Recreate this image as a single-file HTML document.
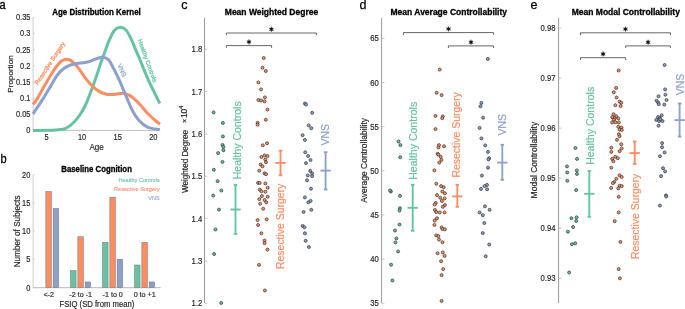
<!DOCTYPE html>
<html><head><meta charset="utf-8"><style>
html,body{margin:0;padding:0;background:#fff;width:685px;height:309px;overflow:hidden}
svg{display:block;will-change:transform}
text{font-family:"Liberation Sans",sans-serif}
</style></head><body>
<svg width="685" height="309" viewBox="0 0 685 309">
<rect width="685" height="309" fill="#fff"/>
<text x="0" y="0" font-size="12.5" fill="#000" text-anchor="start" font-weight="normal" transform="translate(-0.6 8.7) scale(0.88 1)" stroke="#000" stroke-width="0.3">a</text>
<text x="0" y="0" font-size="12.5" fill="#000" text-anchor="start" font-weight="normal" transform="translate(0.4 162.6) scale(0.88 1)" stroke="#000" stroke-width="0.3">b</text>
<text x="181.2" y="8.7" font-size="12.5" fill="#000" text-anchor="start" font-weight="normal" stroke="#000" stroke-width="0.25">c</text>
<text x="359.5" y="8.7" font-size="12.5" fill="#000" text-anchor="start" font-weight="normal" stroke="#000" stroke-width="0.25">d</text>
<text x="530.5" y="8.7" font-size="12.5" fill="#000" text-anchor="start" font-weight="normal" stroke="#000" stroke-width="0.25">e</text>
<line x1="33.2" y1="17.31" x2="33.2" y2="130.5" stroke="#e0e0e0" stroke-width="1.7"/>
<line x1="33.2" y1="130.5" x2="160.3" y2="130.5" stroke="#c4c4c4" stroke-width="1.2"/>
<line x1="33.2" y1="130.5" x2="34.8" y2="130.5" stroke="#bbb" stroke-width="0.6"/>
<text x="0" y="0" font-size="8.7" fill="#262626" text-anchor="end" font-weight="normal" transform="translate(30.4 133.45) scale(0.855 1)" stroke="#262626" stroke-width="0.18">0</text>
<line x1="33.2" y1="114.33" x2="34.8" y2="114.33" stroke="#bbb" stroke-width="0.6"/>
<text x="0" y="0" font-size="8.7" fill="#262626" text-anchor="end" font-weight="normal" transform="translate(30.4 117.28) scale(0.855 1)" stroke="#262626" stroke-width="0.18">0.05</text>
<line x1="33.2" y1="98.16" x2="34.8" y2="98.16" stroke="#bbb" stroke-width="0.6"/>
<text x="0" y="0" font-size="8.7" fill="#262626" text-anchor="end" font-weight="normal" transform="translate(30.4 101.11) scale(0.855 1)" stroke="#262626" stroke-width="0.18">0.1</text>
<line x1="33.2" y1="81.99" x2="34.8" y2="81.99" stroke="#bbb" stroke-width="0.6"/>
<text x="0" y="0" font-size="8.7" fill="#262626" text-anchor="end" font-weight="normal" transform="translate(30.4 84.94) scale(0.855 1)" stroke="#262626" stroke-width="0.18">0.15</text>
<line x1="33.2" y1="65.82" x2="34.8" y2="65.82" stroke="#bbb" stroke-width="0.6"/>
<text x="0" y="0" font-size="8.7" fill="#262626" text-anchor="end" font-weight="normal" transform="translate(30.4 68.77) scale(0.855 1)" stroke="#262626" stroke-width="0.18">0.2</text>
<line x1="33.2" y1="49.65" x2="34.8" y2="49.65" stroke="#bbb" stroke-width="0.6"/>
<text x="0" y="0" font-size="8.7" fill="#262626" text-anchor="end" font-weight="normal" transform="translate(30.4 52.6) scale(0.855 1)" stroke="#262626" stroke-width="0.18">0.25</text>
<line x1="33.2" y1="33.48" x2="34.8" y2="33.48" stroke="#bbb" stroke-width="0.6"/>
<text x="0" y="0" font-size="8.7" fill="#262626" text-anchor="end" font-weight="normal" transform="translate(30.4 36.43) scale(0.855 1)" stroke="#262626" stroke-width="0.18">0.3</text>
<line x1="33.2" y1="17.31" x2="34.8" y2="17.31" stroke="#bbb" stroke-width="0.6"/>
<text x="0" y="0" font-size="8.7" fill="#262626" text-anchor="end" font-weight="normal" transform="translate(30.4 20.26) scale(0.855 1)" stroke="#262626" stroke-width="0.18">0.35</text>
<line x1="46.5" y1="130.5" x2="46.5" y2="128.9" stroke="#bbb" stroke-width="0.6"/>
<text x="0" y="0" font-size="8.5" fill="#262626" text-anchor="middle" font-weight="normal" transform="translate(46.5 139.9) scale(0.875 1)" stroke="#262626" stroke-width="0.18">5</text>
<line x1="82.1" y1="130.5" x2="82.1" y2="128.9" stroke="#bbb" stroke-width="0.6"/>
<text x="0" y="0" font-size="8.5" fill="#262626" text-anchor="middle" font-weight="normal" transform="translate(82.1 139.9) scale(0.875 1)" stroke="#262626" stroke-width="0.18">10</text>
<line x1="117.7" y1="130.5" x2="117.7" y2="128.9" stroke="#bbb" stroke-width="0.6"/>
<text x="0" y="0" font-size="8.5" fill="#262626" text-anchor="middle" font-weight="normal" transform="translate(117.7 139.9) scale(0.875 1)" stroke="#262626" stroke-width="0.18">15</text>
<line x1="153.3" y1="130.5" x2="153.3" y2="128.9" stroke="#bbb" stroke-width="0.6"/>
<text x="0" y="0" font-size="8.5" fill="#262626" text-anchor="middle" font-weight="normal" transform="translate(153.3 139.9) scale(0.875 1)" stroke="#262626" stroke-width="0.18">20</text>
<text x="0" y="0" font-size="8.8" fill="#262626" text-anchor="middle" font-weight="normal" transform="translate(96.6 149.7) scale(0.92 1)" stroke="#262626" stroke-width="0.18">Age</text>
<text x="12.7" y="74" font-size="8.1" fill="#262626" text-anchor="middle" font-weight="normal" transform="rotate(-90 12.7 74)" stroke="#262626" stroke-width="0.18">Proportion</text>
<text x="0" y="0" font-size="8.45" fill="#000" text-anchor="middle" font-weight="bold" transform="translate(96.5 14.9) scale(0.94 1)" stroke="#000" stroke-width="0.3">Age Distribution Kernel</text>
<path d="M33.00 130.40 C36.33 130.38 48.50 130.43 53.00 130.30 C57.50 130.17 57.83 129.93 60.00 129.60 C62.17 129.27 63.63 129.57 66.00 128.30 C68.37 127.03 71.78 124.38 74.20 122.00 C76.62 119.62 78.62 116.83 80.50 114.00 C82.38 111.17 84.08 107.92 85.50 105.00 C86.92 102.08 87.88 99.33 89.00 96.50 C90.12 93.67 91.00 91.25 92.20 88.00 C93.40 84.75 94.85 80.92 96.20 77.00 C97.55 73.08 98.88 68.62 100.30 64.50 C101.72 60.38 103.15 56.48 104.70 52.30 C106.25 48.12 107.98 43.03 109.60 39.40 C111.22 35.77 112.65 32.52 114.40 30.50 C116.15 28.48 118.22 27.43 120.10 27.30 C121.98 27.17 123.95 27.95 125.70 29.70 C127.45 31.45 128.98 34.57 130.60 37.80 C132.22 41.03 133.78 45.33 135.40 49.10 C137.02 52.87 138.95 57.17 140.30 60.40 C141.65 63.63 141.83 64.53 143.50 68.50 C145.17 72.47 147.58 78.37 150.30 84.20 C153.02 90.03 158.22 100.28 159.80 103.50" fill="none" stroke="#66c2a5" stroke-width="3" stroke-linecap="butt"/>
<path d="M33.00 104.50 C33.67 103.60 34.97 102.42 37.00 99.10 C39.03 95.78 42.37 89.45 45.20 84.60 C48.03 79.75 51.38 73.85 54.00 70.00 C56.62 66.15 58.82 63.28 60.90 61.50 C62.98 59.72 64.90 59.52 66.50 59.30 C68.10 59.08 68.70 58.98 70.50 60.20 C72.30 61.42 74.97 63.83 77.30 66.60 C79.63 69.37 82.08 73.65 84.50 76.80 C86.92 79.95 89.37 83.07 91.80 85.50 C94.23 87.93 96.67 89.93 99.10 91.40 C101.53 92.87 104.25 93.78 106.40 94.30 C108.55 94.82 110.23 94.55 112.00 94.50 C113.77 94.45 115.15 94.20 117.00 94.00 C118.85 93.80 120.95 93.03 123.10 93.30 C125.25 93.57 127.25 93.90 129.90 95.60 C132.55 97.30 135.98 100.48 139.00 103.50 C142.02 106.52 144.53 110.23 148.00 113.70 C151.47 117.17 157.83 122.53 159.80 124.30" fill="none" stroke="#fc8d62" stroke-width="3" stroke-linecap="butt"/>
<path d="M33.00 113.80 C34.63 111.35 39.72 103.97 42.80 99.10 C45.88 94.23 49.02 88.70 51.50 84.60 C53.98 80.50 55.60 77.23 57.70 74.50 C59.80 71.77 61.95 69.78 64.10 68.20 C66.25 66.62 68.43 65.80 70.60 65.00 C72.77 64.20 74.95 63.77 77.10 63.40 C79.25 63.03 81.60 63.07 83.50 62.80 C85.40 62.53 86.78 62.32 88.50 61.80 C90.22 61.28 91.57 60.45 93.80 59.70 C96.03 58.95 99.47 57.30 101.90 57.30 C104.33 57.30 106.52 57.95 108.40 59.70 C110.28 61.45 111.50 64.65 113.20 67.80 C114.90 70.95 116.57 74.17 118.60 78.60 C120.63 83.03 123.13 89.12 125.40 94.40 C127.67 99.68 129.93 105.95 132.20 110.30 C134.47 114.65 136.37 117.67 139.00 120.50 C141.63 123.33 144.53 125.80 148.00 127.30 C151.47 128.80 157.83 129.13 159.80 129.50" fill="none" stroke="#8da0cb" stroke-width="3" stroke-linecap="butt"/>
<text x="51.6" y="64.4" font-size="6.1" fill="#fc8d62" text-anchor="middle" font-weight="normal" transform="rotate(-56.5 51.6 64.4)" stroke="#fc8d62" stroke-width="0.25">Resective Surgery</text>
<text x="0" y="0" font-size="6.5" fill="#8da0cb" text-anchor="middle" font-weight="normal" transform="translate(120 71.3) scale(0.94 1) rotate(63)" stroke="#8da0cb" stroke-width="0.25">VNS</text>
<text x="0" y="0" font-size="6.2" fill="#66c2a5" text-anchor="middle" font-weight="normal" transform="translate(145.5 61.3) scale(0.94 1) rotate(69)" stroke="#66c2a5" stroke-width="0.25">Healthy Controls</text>
<line x1="33.2" y1="174.6" x2="33.2" y2="287.6" stroke="#e0e0e0" stroke-width="1.7"/>
<line x1="33.2" y1="287.6" x2="160.6" y2="287.6" stroke="#c4c4c4" stroke-width="1.2"/>
<line x1="33.2" y1="287.6" x2="34.8" y2="287.6" stroke="#bbb" stroke-width="0.6"/>
<text x="0" y="0" font-size="8.7" fill="#262626" text-anchor="end" font-weight="normal" transform="translate(30.3 290.55) scale(0.855 1)" stroke="#262626" stroke-width="0.18">0</text>
<line x1="33.2" y1="259.35" x2="34.8" y2="259.35" stroke="#bbb" stroke-width="0.6"/>
<text x="0" y="0" font-size="8.7" fill="#262626" text-anchor="end" font-weight="normal" transform="translate(30.3 262.3) scale(0.855 1)" stroke="#262626" stroke-width="0.18">5</text>
<line x1="33.2" y1="231.1" x2="34.8" y2="231.1" stroke="#bbb" stroke-width="0.6"/>
<text x="0" y="0" font-size="8.7" fill="#262626" text-anchor="end" font-weight="normal" transform="translate(30.3 234.05) scale(0.855 1)" stroke="#262626" stroke-width="0.18">10</text>
<line x1="33.2" y1="202.85" x2="34.8" y2="202.85" stroke="#bbb" stroke-width="0.6"/>
<text x="0" y="0" font-size="8.7" fill="#262626" text-anchor="end" font-weight="normal" transform="translate(30.3 205.8) scale(0.855 1)" stroke="#262626" stroke-width="0.18">15</text>
<line x1="33.2" y1="174.6" x2="34.8" y2="174.6" stroke="#bbb" stroke-width="0.6"/>
<text x="0" y="0" font-size="8.7" fill="#262626" text-anchor="end" font-weight="normal" transform="translate(30.3 177.55) scale(0.855 1)" stroke="#262626" stroke-width="0.18">20</text>
<rect x="45.85" y="191.55" width="5.5" height="96.05" fill="#fc8d62" stroke="#707070" stroke-width="0.5"/>
<rect x="53.15" y="208.5" width="5.5" height="79.1" fill="#8da0cb" stroke="#707070" stroke-width="0.5"/>
<rect x="70.55" y="270.65" width="5.5" height="16.95" fill="#66c2a5" stroke="#707070" stroke-width="0.5"/>
<rect x="77.85" y="236.75" width="5.5" height="50.85" fill="#fc8d62" stroke="#707070" stroke-width="0.5"/>
<rect x="85.15" y="281.95" width="5.5" height="5.65" fill="#8da0cb" stroke="#707070" stroke-width="0.5"/>
<rect x="102.55" y="242.4" width="5.5" height="45.2" fill="#66c2a5" stroke="#707070" stroke-width="0.5"/>
<rect x="109.85" y="197.2" width="5.5" height="90.4" fill="#fc8d62" stroke="#707070" stroke-width="0.5"/>
<rect x="117.15" y="259.35" width="5.5" height="28.25" fill="#8da0cb" stroke="#707070" stroke-width="0.5"/>
<rect x="134.55" y="265" width="5.5" height="22.6" fill="#66c2a5" stroke="#707070" stroke-width="0.5"/>
<rect x="141.85" y="242.4" width="5.5" height="45.2" fill="#fc8d62" stroke="#707070" stroke-width="0.5"/>
<rect x="149.15" y="281.95" width="5.5" height="5.65" fill="#8da0cb" stroke="#707070" stroke-width="0.5"/>
<text x="0" y="0" font-size="7.8" fill="#262626" text-anchor="middle" font-weight="normal" transform="translate(48.7 296.7) scale(0.92 1)" stroke="#262626" stroke-width="0.18">&lt;-2</text>
<text x="0" y="0" font-size="7.8" fill="#262626" text-anchor="middle" font-weight="normal" transform="translate(80.7 296.7) scale(0.92 1)" stroke="#262626" stroke-width="0.18">-2 to -1</text>
<text x="0" y="0" font-size="7.8" fill="#262626" text-anchor="middle" font-weight="normal" transform="translate(112.7 296.7) scale(0.92 1)" stroke="#262626" stroke-width="0.18">-1 to 0</text>
<text x="0" y="0" font-size="7.8" fill="#262626" text-anchor="middle" font-weight="normal" transform="translate(144.7 296.7) scale(0.92 1)" stroke="#262626" stroke-width="0.18">0 to +1</text>
<text x="0" y="0" font-size="8.2" fill="#262626" text-anchor="middle" font-weight="normal" transform="translate(96.9 306.6) scale(0.94 1)" stroke="#262626" stroke-width="0.18">FSIQ (SD from mean)</text>
<text x="20.3" y="231.4" font-size="8.2" fill="#262626" text-anchor="middle" font-weight="normal" transform="rotate(-90 20.3 231.4)" stroke="#262626" stroke-width="0.18">Number of Subjects</text>
<text x="0" y="0" font-size="8.3" fill="#000" text-anchor="middle" font-weight="bold" transform="translate(96.6 171.8) scale(0.94 1)" stroke="#000" stroke-width="0.3">Baseline Cognition</text>
<text x="0" y="0" font-size="5.95" fill="#66c2a5" text-anchor="end" font-weight="normal" transform="translate(159.7 181.6) scale(0.94 1)" stroke="#66c2a5" stroke-width="0.08">Healthy Controls</text>
<text x="0" y="0" font-size="5.95" fill="#fc8d62" text-anchor="end" font-weight="normal" transform="translate(159.7 191.1) scale(0.94 1)" stroke="#fc8d62" stroke-width="0.08">Resective Surgery</text>
<text x="0" y="0" font-size="5.95" fill="#8da0cb" text-anchor="end" font-weight="normal" transform="translate(159.7 200.3) scale(0.94 1)" stroke="#8da0cb" stroke-width="0.08">VNS</text>
<line x1="204.5" y1="17.9" x2="204.5" y2="303" stroke="#9a9a9a" stroke-width="1"/>
<line x1="204.5" y1="49.3" x2="207.3" y2="49.3" stroke="#bcbcbc" stroke-width="0.9"/>
<text x="0" y="0" font-size="8.35" fill="#262626" text-anchor="end" font-weight="normal" transform="translate(202.3 52.35) scale(0.92 1)" stroke="#262626" stroke-width="0.18">1.8</text>
<line x1="204.5" y1="91.63" x2="207.3" y2="91.63" stroke="#bcbcbc" stroke-width="0.9"/>
<text x="0" y="0" font-size="8.35" fill="#262626" text-anchor="end" font-weight="normal" transform="translate(202.3 94.68) scale(0.92 1)" stroke="#262626" stroke-width="0.18">1.7</text>
<line x1="204.5" y1="133.96" x2="207.3" y2="133.96" stroke="#bcbcbc" stroke-width="0.9"/>
<text x="0" y="0" font-size="8.35" fill="#262626" text-anchor="end" font-weight="normal" transform="translate(202.3 137.01) scale(0.92 1)" stroke="#262626" stroke-width="0.18">1.6</text>
<line x1="204.5" y1="176.29" x2="207.3" y2="176.29" stroke="#bcbcbc" stroke-width="0.9"/>
<text x="0" y="0" font-size="8.35" fill="#262626" text-anchor="end" font-weight="normal" transform="translate(202.3 179.34) scale(0.92 1)" stroke="#262626" stroke-width="0.18">1.5</text>
<line x1="204.5" y1="218.62" x2="207.3" y2="218.62" stroke="#bcbcbc" stroke-width="0.9"/>
<text x="0" y="0" font-size="8.35" fill="#262626" text-anchor="end" font-weight="normal" transform="translate(202.3 221.67) scale(0.92 1)" stroke="#262626" stroke-width="0.18">1.4</text>
<line x1="204.5" y1="260.95" x2="207.3" y2="260.95" stroke="#bcbcbc" stroke-width="0.9"/>
<text x="0" y="0" font-size="8.35" fill="#262626" text-anchor="end" font-weight="normal" transform="translate(202.3 264) scale(0.92 1)" stroke="#262626" stroke-width="0.18">1.3</text>
<line x1="204.5" y1="303.28" x2="207.3" y2="303.28" stroke="#bcbcbc" stroke-width="0.9"/>
<text x="0" y="0" font-size="8.35" fill="#262626" text-anchor="end" font-weight="normal" transform="translate(202.3 306.33) scale(0.92 1)" stroke="#262626" stroke-width="0.18">1.2</text>
<text x="187.7" y="193" font-size="8.15" fill="#262626" text-anchor="start" font-weight="normal" transform="rotate(-90 187.7 193)" stroke="#262626" stroke-width="0.18">Weighted Degree</text>
<text x="187.1" y="121" font-size="7.2" fill="#262626" text-anchor="middle" font-weight="normal" transform="rotate(-90 187.1 121)" stroke="#262626" stroke-width="0.18">×</text>
<text x="187.1" y="118.1" font-size="8.5" fill="#262626" text-anchor="start" font-weight="normal" transform="rotate(-90 187.1 118.1)" stroke="#262626" stroke-width="0.18">10</text>
<text x="182.9" y="108.7" font-size="5.6" fill="#262626" text-anchor="start" font-weight="normal" transform="rotate(-90 182.9 108.7)" stroke="#262626" stroke-width="0.18">4</text>
<text x="271.5" y="15.4" font-size="8.5" fill="#000" text-anchor="middle" font-weight="bold" stroke="#000" stroke-width="0.3">Mean Weighted Degree</text>
<circle cx="213.6" cy="112.4" r="1.52" fill="#66c2a5" stroke="#262626" stroke-width="0.65"/>
<circle cx="222.9" cy="122.9" r="1.52" fill="#66c2a5" stroke="#262626" stroke-width="0.65"/>
<circle cx="222.9" cy="136.4" r="1.52" fill="#66c2a5" stroke="#262626" stroke-width="0.65"/>
<circle cx="222.5" cy="144.9" r="1.52" fill="#66c2a5" stroke="#262626" stroke-width="0.65"/>
<circle cx="223.4" cy="146.9" r="1.52" fill="#66c2a5" stroke="#262626" stroke-width="0.65"/>
<circle cx="223.4" cy="150.2" r="1.52" fill="#66c2a5" stroke="#262626" stroke-width="0.65"/>
<circle cx="218.1" cy="153.1" r="1.52" fill="#66c2a5" stroke="#262626" stroke-width="0.65"/>
<circle cx="222.5" cy="161.9" r="1.52" fill="#66c2a5" stroke="#262626" stroke-width="0.65"/>
<circle cx="213.8" cy="169.8" r="1.52" fill="#66c2a5" stroke="#262626" stroke-width="0.65"/>
<circle cx="217.6" cy="181.2" r="1.52" fill="#66c2a5" stroke="#262626" stroke-width="0.65"/>
<circle cx="221.3" cy="190.5" r="1.52" fill="#66c2a5" stroke="#262626" stroke-width="0.65"/>
<circle cx="213.2" cy="195.6" r="1.52" fill="#66c2a5" stroke="#262626" stroke-width="0.65"/>
<circle cx="219" cy="209.6" r="1.52" fill="#66c2a5" stroke="#262626" stroke-width="0.65"/>
<circle cx="215.5" cy="229.4" r="1.52" fill="#66c2a5" stroke="#262626" stroke-width="0.65"/>
<circle cx="214.1" cy="254" r="1.52" fill="#66c2a5" stroke="#262626" stroke-width="0.65"/>
<circle cx="221.2" cy="302.9" r="1.52" fill="#66c2a5" stroke="#262626" stroke-width="0.65"/>
<circle cx="263.7" cy="58" r="1.52" fill="#fc8d62" stroke="#262626" stroke-width="0.65"/>
<circle cx="262.5" cy="67.7" r="1.52" fill="#fc8d62" stroke="#262626" stroke-width="0.65"/>
<circle cx="265.8" cy="71" r="1.52" fill="#fc8d62" stroke="#262626" stroke-width="0.65"/>
<circle cx="258.4" cy="82.4" r="1.52" fill="#fc8d62" stroke="#262626" stroke-width="0.65"/>
<circle cx="261.1" cy="89.4" r="1.52" fill="#fc8d62" stroke="#262626" stroke-width="0.65"/>
<circle cx="258.4" cy="100" r="1.52" fill="#fc8d62" stroke="#262626" stroke-width="0.65"/>
<circle cx="261.1" cy="100.5" r="1.52" fill="#fc8d62" stroke="#262626" stroke-width="0.65"/>
<circle cx="264.9" cy="97.4" r="1.52" fill="#fc8d62" stroke="#262626" stroke-width="0.65"/>
<circle cx="264.6" cy="101.4" r="1.52" fill="#fc8d62" stroke="#262626" stroke-width="0.65"/>
<circle cx="267.5" cy="109.6" r="1.52" fill="#fc8d62" stroke="#262626" stroke-width="0.65"/>
<circle cx="265.8" cy="119.8" r="1.52" fill="#fc8d62" stroke="#262626" stroke-width="0.65"/>
<circle cx="257.6" cy="122.8" r="1.52" fill="#fc8d62" stroke="#262626" stroke-width="0.65"/>
<circle cx="257.6" cy="124.7" r="1.52" fill="#fc8d62" stroke="#262626" stroke-width="0.65"/>
<circle cx="267" cy="143.2" r="1.52" fill="#fc8d62" stroke="#262626" stroke-width="0.65"/>
<circle cx="262.8" cy="145.3" r="1.52" fill="#fc8d62" stroke="#262626" stroke-width="0.65"/>
<circle cx="261.4" cy="157" r="1.52" fill="#fc8d62" stroke="#262626" stroke-width="0.65"/>
<circle cx="264.6" cy="155.4" r="1.52" fill="#fc8d62" stroke="#262626" stroke-width="0.65"/>
<circle cx="267.5" cy="156.1" r="1.52" fill="#fc8d62" stroke="#262626" stroke-width="0.65"/>
<circle cx="265.4" cy="159.6" r="1.52" fill="#fc8d62" stroke="#262626" stroke-width="0.65"/>
<circle cx="266" cy="162.2" r="1.52" fill="#fc8d62" stroke="#262626" stroke-width="0.65"/>
<circle cx="260.7" cy="164.5" r="1.52" fill="#fc8d62" stroke="#262626" stroke-width="0.65"/>
<circle cx="262.5" cy="166.3" r="1.52" fill="#fc8d62" stroke="#262626" stroke-width="0.65"/>
<circle cx="259.3" cy="170.7" r="1.52" fill="#fc8d62" stroke="#262626" stroke-width="0.65"/>
<circle cx="264.6" cy="173.3" r="1.52" fill="#fc8d62" stroke="#262626" stroke-width="0.65"/>
<circle cx="266" cy="174.2" r="1.52" fill="#fc8d62" stroke="#262626" stroke-width="0.65"/>
<circle cx="258.1" cy="182.9" r="1.52" fill="#fc8d62" stroke="#262626" stroke-width="0.65"/>
<circle cx="259.7" cy="182.9" r="1.52" fill="#fc8d62" stroke="#262626" stroke-width="0.65"/>
<circle cx="265.4" cy="183.4" r="1.52" fill="#fc8d62" stroke="#262626" stroke-width="0.65"/>
<circle cx="267.7" cy="187.7" r="1.52" fill="#fc8d62" stroke="#262626" stroke-width="0.65"/>
<circle cx="259.8" cy="189.6" r="1.52" fill="#fc8d62" stroke="#262626" stroke-width="0.65"/>
<circle cx="261.4" cy="191.3" r="1.52" fill="#fc8d62" stroke="#262626" stroke-width="0.65"/>
<circle cx="265.4" cy="191.7" r="1.52" fill="#fc8d62" stroke="#262626" stroke-width="0.65"/>
<circle cx="261.9" cy="196.1" r="1.52" fill="#fc8d62" stroke="#262626" stroke-width="0.65"/>
<circle cx="267.7" cy="196.7" r="1.52" fill="#fc8d62" stroke="#262626" stroke-width="0.65"/>
<circle cx="259.3" cy="199.1" r="1.52" fill="#fc8d62" stroke="#262626" stroke-width="0.65"/>
<circle cx="264.6" cy="200" r="1.52" fill="#fc8d62" stroke="#262626" stroke-width="0.65"/>
<circle cx="266.3" cy="202.3" r="1.52" fill="#fc8d62" stroke="#262626" stroke-width="0.65"/>
<circle cx="260.2" cy="203.7" r="1.52" fill="#fc8d62" stroke="#262626" stroke-width="0.65"/>
<circle cx="263.2" cy="208.7" r="1.52" fill="#fc8d62" stroke="#262626" stroke-width="0.65"/>
<circle cx="257.6" cy="220.1" r="1.52" fill="#fc8d62" stroke="#262626" stroke-width="0.65"/>
<circle cx="266.7" cy="219.3" r="1.52" fill="#fc8d62" stroke="#262626" stroke-width="0.65"/>
<circle cx="258.1" cy="225" r="1.52" fill="#fc8d62" stroke="#262626" stroke-width="0.65"/>
<circle cx="261.4" cy="233.3" r="1.52" fill="#fc8d62" stroke="#262626" stroke-width="0.65"/>
<circle cx="264.6" cy="240.5" r="1.52" fill="#fc8d62" stroke="#262626" stroke-width="0.65"/>
<circle cx="264.6" cy="243.2" r="1.52" fill="#fc8d62" stroke="#262626" stroke-width="0.65"/>
<circle cx="267.5" cy="249.6" r="1.52" fill="#fc8d62" stroke="#262626" stroke-width="0.65"/>
<circle cx="259" cy="264.9" r="1.52" fill="#fc8d62" stroke="#262626" stroke-width="0.65"/>
<circle cx="264.9" cy="290.5" r="1.52" fill="#fc8d62" stroke="#262626" stroke-width="0.65"/>
<circle cx="304.9" cy="103.5" r="1.52" fill="#8da0cb" stroke="#262626" stroke-width="0.65"/>
<circle cx="306.1" cy="104.5" r="1.52" fill="#8da0cb" stroke="#262626" stroke-width="0.65"/>
<circle cx="312.2" cy="112.8" r="1.52" fill="#8da0cb" stroke="#262626" stroke-width="0.65"/>
<circle cx="308.7" cy="125.4" r="1.52" fill="#8da0cb" stroke="#262626" stroke-width="0.65"/>
<circle cx="311.3" cy="128.2" r="1.52" fill="#8da0cb" stroke="#262626" stroke-width="0.65"/>
<circle cx="302.6" cy="135.2" r="1.52" fill="#8da0cb" stroke="#262626" stroke-width="0.65"/>
<circle cx="304.9" cy="139.9" r="1.52" fill="#8da0cb" stroke="#262626" stroke-width="0.65"/>
<circle cx="305.2" cy="152.3" r="1.52" fill="#8da0cb" stroke="#262626" stroke-width="0.65"/>
<circle cx="308.1" cy="156" r="1.52" fill="#8da0cb" stroke="#262626" stroke-width="0.65"/>
<circle cx="310.5" cy="160" r="1.52" fill="#8da0cb" stroke="#262626" stroke-width="0.65"/>
<circle cx="306" cy="163.1" r="1.52" fill="#8da0cb" stroke="#262626" stroke-width="0.65"/>
<circle cx="310.2" cy="170.9" r="1.52" fill="#8da0cb" stroke="#262626" stroke-width="0.65"/>
<circle cx="312.1" cy="173.3" r="1.52" fill="#8da0cb" stroke="#262626" stroke-width="0.65"/>
<circle cx="312.1" cy="176.1" r="1.52" fill="#8da0cb" stroke="#262626" stroke-width="0.65"/>
<circle cx="307.8" cy="175.4" r="1.52" fill="#8da0cb" stroke="#262626" stroke-width="0.65"/>
<circle cx="307" cy="180.3" r="1.52" fill="#8da0cb" stroke="#262626" stroke-width="0.65"/>
<circle cx="311" cy="188.7" r="1.52" fill="#8da0cb" stroke="#262626" stroke-width="0.65"/>
<circle cx="304.9" cy="197.4" r="1.52" fill="#8da0cb" stroke="#262626" stroke-width="0.65"/>
<circle cx="308.4" cy="202.3" r="1.52" fill="#8da0cb" stroke="#262626" stroke-width="0.65"/>
<circle cx="310.6" cy="200.9" r="1.52" fill="#8da0cb" stroke="#262626" stroke-width="0.65"/>
<circle cx="311.3" cy="209.8" r="1.52" fill="#8da0cb" stroke="#262626" stroke-width="0.65"/>
<circle cx="303.6" cy="211.9" r="1.52" fill="#8da0cb" stroke="#262626" stroke-width="0.65"/>
<circle cx="302.6" cy="225.9" r="1.52" fill="#8da0cb" stroke="#262626" stroke-width="0.65"/>
<circle cx="304.5" cy="227.3" r="1.52" fill="#8da0cb" stroke="#262626" stroke-width="0.65"/>
<circle cx="304.9" cy="233.3" r="1.52" fill="#8da0cb" stroke="#262626" stroke-width="0.65"/>
<circle cx="305.7" cy="240.8" r="1.52" fill="#8da0cb" stroke="#262626" stroke-width="0.65"/>
<circle cx="308.9" cy="247" r="1.52" fill="#8da0cb" stroke="#262626" stroke-width="0.65"/>
<g stroke="#66c2a5" stroke-width="1.85"><line x1="235.5" y1="184.9" x2="235.5" y2="234"/><line x1="233.7" y1="184.9" x2="237.3" y2="184.9"/><line x1="233.7" y1="234" x2="237.3" y2="234"/><line x1="230.3" y1="209.5" x2="240.7" y2="209.5"/></g>
<g stroke="#fc8d62" stroke-width="1.85"><line x1="280.5" y1="150.7" x2="280.5" y2="175.3"/><line x1="278.7" y1="150.7" x2="282.3" y2="150.7"/><line x1="278.7" y1="175.3" x2="282.3" y2="175.3"/><line x1="275.3" y1="162.9" x2="285.7" y2="162.9"/></g>
<g stroke="#8da0cb" stroke-width="1.85"><line x1="325.6" y1="152.2" x2="325.6" y2="189.5"/><line x1="323.8" y1="152.2" x2="327.4" y2="152.2"/><line x1="323.8" y1="189.5" x2="327.4" y2="189.5"/><line x1="320.4" y1="170.6" x2="330.8" y2="170.6"/></g>
<text x="241.2" y="179.3" font-size="10.55" fill="#66c2a5" text-anchor="start" font-weight="normal" transform="rotate(-90 241.2 179.3)" stroke="#66c2a5" stroke-width="0.18">Healthy Controls</text>
<text x="284.1" y="183.7" font-size="10.45" fill="#fc8d62" text-anchor="end" font-weight="normal" transform="rotate(-90 284.1 183.7)" stroke="#fc8d62" stroke-width="0.18">Resective Surgery</text>
<text x="329.4" y="145.4" font-size="10.45" fill="#8da0cb" text-anchor="start" font-weight="normal" transform="rotate(-90 329.4 145.4)" stroke="#8da0cb" stroke-width="0.18">VNS</text>
<path d="M226.4 35.2 V33 H316.4 V35.2" fill="none" stroke="#555" stroke-width="0.9"/>
<polygon points="271.40,26.80 270.85,28.35 269.23,28.05 270.30,29.30 269.23,30.55 270.85,30.25 271.40,31.80 271.95,30.25 273.57,30.55 272.50,29.30 273.57,28.05 271.95,28.35" fill="#111" stroke="#111" stroke-width="0.35" stroke-linejoin="round"/>
<path d="M226.4 47.8 V45.6 H271.6 V47.8" fill="none" stroke="#555" stroke-width="0.9"/>
<polygon points="249.00,39.40 248.45,40.95 246.83,40.65 247.90,41.90 246.83,43.15 248.45,42.85 249.00,44.40 249.55,42.85 251.17,43.15 250.10,41.90 251.17,40.65 249.55,40.95" fill="#111" stroke="#111" stroke-width="0.35" stroke-linejoin="round"/>
<line x1="381.6" y1="17.9" x2="381.6" y2="303" stroke="#9a9a9a" stroke-width="1"/>
<line x1="381.6" y1="38.3" x2="384.4" y2="38.3" stroke="#bcbcbc" stroke-width="0.9"/>
<text x="0" y="0" font-size="8.35" fill="#262626" text-anchor="end" font-weight="normal" transform="translate(378.8 41.35) scale(0.92 1)" stroke="#262626" stroke-width="0.18">65</text>
<line x1="381.6" y1="82.47" x2="384.4" y2="82.47" stroke="#bcbcbc" stroke-width="0.9"/>
<text x="0" y="0" font-size="8.35" fill="#262626" text-anchor="end" font-weight="normal" transform="translate(378.8 85.52) scale(0.92 1)" stroke="#262626" stroke-width="0.18">60</text>
<line x1="381.6" y1="126.64" x2="384.4" y2="126.64" stroke="#bcbcbc" stroke-width="0.9"/>
<text x="0" y="0" font-size="8.35" fill="#262626" text-anchor="end" font-weight="normal" transform="translate(378.8 129.69) scale(0.92 1)" stroke="#262626" stroke-width="0.18">55</text>
<line x1="381.6" y1="170.81" x2="384.4" y2="170.81" stroke="#bcbcbc" stroke-width="0.9"/>
<text x="0" y="0" font-size="8.35" fill="#262626" text-anchor="end" font-weight="normal" transform="translate(378.8 173.86) scale(0.92 1)" stroke="#262626" stroke-width="0.18">50</text>
<line x1="381.6" y1="214.98" x2="384.4" y2="214.98" stroke="#bcbcbc" stroke-width="0.9"/>
<text x="0" y="0" font-size="8.35" fill="#262626" text-anchor="end" font-weight="normal" transform="translate(378.8 218.03) scale(0.92 1)" stroke="#262626" stroke-width="0.18">45</text>
<line x1="381.6" y1="259.15" x2="384.4" y2="259.15" stroke="#bcbcbc" stroke-width="0.9"/>
<text x="0" y="0" font-size="8.35" fill="#262626" text-anchor="end" font-weight="normal" transform="translate(378.8 262.2) scale(0.92 1)" stroke="#262626" stroke-width="0.18">40</text>
<line x1="381.6" y1="303.32" x2="384.4" y2="303.32" stroke="#bcbcbc" stroke-width="0.9"/>
<text x="0" y="0" font-size="8.35" fill="#262626" text-anchor="end" font-weight="normal" transform="translate(378.8 306.37) scale(0.92 1)" stroke="#262626" stroke-width="0.18">35</text>
<text x="367.5" y="160.4" font-size="8.5" fill="#262626" text-anchor="middle" font-weight="normal" transform="rotate(-90 367.5 160.4)" stroke="#262626" stroke-width="0.18">Average Controllability</text>
<text x="448.8" y="15.4" font-size="8.5" fill="#000" text-anchor="middle" font-weight="bold" stroke="#000" stroke-width="0.3">Mean Average Controllability</text>
<circle cx="398.5" cy="141.4" r="1.52" fill="#66c2a5" stroke="#262626" stroke-width="0.65"/>
<circle cx="400.4" cy="145.1" r="1.52" fill="#66c2a5" stroke="#262626" stroke-width="0.65"/>
<circle cx="400.2" cy="157.3" r="1.52" fill="#66c2a5" stroke="#262626" stroke-width="0.65"/>
<circle cx="390.9" cy="191.5" r="1.52" fill="#66c2a5" stroke="#262626" stroke-width="0.65"/>
<circle cx="390" cy="190.4" r="1.52" fill="#66c2a5" stroke="#262626" stroke-width="0.65"/>
<circle cx="400" cy="195.8" r="1.52" fill="#66c2a5" stroke="#262626" stroke-width="0.65"/>
<circle cx="399.9" cy="208.2" r="1.52" fill="#66c2a5" stroke="#262626" stroke-width="0.65"/>
<circle cx="399.5" cy="210.6" r="1.52" fill="#66c2a5" stroke="#262626" stroke-width="0.65"/>
<circle cx="399.5" cy="224.5" r="1.52" fill="#66c2a5" stroke="#262626" stroke-width="0.65"/>
<circle cx="395" cy="230.5" r="1.52" fill="#66c2a5" stroke="#262626" stroke-width="0.65"/>
<circle cx="396.4" cy="238.4" r="1.52" fill="#66c2a5" stroke="#262626" stroke-width="0.65"/>
<circle cx="395.5" cy="242.4" r="1.52" fill="#66c2a5" stroke="#262626" stroke-width="0.65"/>
<circle cx="398.1" cy="251.5" r="1.52" fill="#66c2a5" stroke="#262626" stroke-width="0.65"/>
<circle cx="391.1" cy="264.7" r="1.52" fill="#66c2a5" stroke="#262626" stroke-width="0.65"/>
<circle cx="392.4" cy="280.4" r="1.52" fill="#66c2a5" stroke="#262626" stroke-width="0.65"/>
<circle cx="439.7" cy="69.6" r="1.52" fill="#fc8d62" stroke="#262626" stroke-width="0.65"/>
<circle cx="436.7" cy="92.8" r="1.52" fill="#fc8d62" stroke="#262626" stroke-width="0.65"/>
<circle cx="441.6" cy="95.1" r="1.52" fill="#fc8d62" stroke="#262626" stroke-width="0.65"/>
<circle cx="435.5" cy="115.9" r="1.52" fill="#fc8d62" stroke="#262626" stroke-width="0.65"/>
<circle cx="442.8" cy="116.4" r="1.52" fill="#fc8d62" stroke="#262626" stroke-width="0.65"/>
<circle cx="442.3" cy="118.2" r="1.52" fill="#fc8d62" stroke="#262626" stroke-width="0.65"/>
<circle cx="435.5" cy="129.1" r="1.52" fill="#fc8d62" stroke="#262626" stroke-width="0.65"/>
<circle cx="439" cy="145.1" r="1.52" fill="#fc8d62" stroke="#262626" stroke-width="0.65"/>
<circle cx="438.4" cy="147.5" r="1.52" fill="#fc8d62" stroke="#262626" stroke-width="0.65"/>
<circle cx="444" cy="146.3" r="1.52" fill="#fc8d62" stroke="#262626" stroke-width="0.65"/>
<circle cx="437.6" cy="153.8" r="1.52" fill="#fc8d62" stroke="#262626" stroke-width="0.65"/>
<circle cx="438.4" cy="154.7" r="1.52" fill="#fc8d62" stroke="#262626" stroke-width="0.65"/>
<circle cx="440.7" cy="156.8" r="1.52" fill="#fc8d62" stroke="#262626" stroke-width="0.65"/>
<circle cx="441.4" cy="159.9" r="1.52" fill="#fc8d62" stroke="#262626" stroke-width="0.65"/>
<circle cx="439.3" cy="162.6" r="1.52" fill="#fc8d62" stroke="#262626" stroke-width="0.65"/>
<circle cx="434.4" cy="170.3" r="1.52" fill="#fc8d62" stroke="#262626" stroke-width="0.65"/>
<circle cx="436.3" cy="183.7" r="1.52" fill="#fc8d62" stroke="#262626" stroke-width="0.65"/>
<circle cx="441.1" cy="186.1" r="1.52" fill="#fc8d62" stroke="#262626" stroke-width="0.65"/>
<circle cx="443.7" cy="187.2" r="1.52" fill="#fc8d62" stroke="#262626" stroke-width="0.65"/>
<circle cx="442.3" cy="191.5" r="1.52" fill="#fc8d62" stroke="#262626" stroke-width="0.65"/>
<circle cx="444.9" cy="193.3" r="1.52" fill="#fc8d62" stroke="#262626" stroke-width="0.65"/>
<circle cx="437" cy="195.1" r="1.52" fill="#fc8d62" stroke="#262626" stroke-width="0.65"/>
<circle cx="440.2" cy="197.7" r="1.52" fill="#fc8d62" stroke="#262626" stroke-width="0.65"/>
<circle cx="444.6" cy="198.4" r="1.52" fill="#fc8d62" stroke="#262626" stroke-width="0.65"/>
<circle cx="441.9" cy="201" r="1.52" fill="#fc8d62" stroke="#262626" stroke-width="0.65"/>
<circle cx="435.8" cy="202.9" r="1.52" fill="#fc8d62" stroke="#262626" stroke-width="0.65"/>
<circle cx="434.6" cy="204.5" r="1.52" fill="#fc8d62" stroke="#262626" stroke-width="0.65"/>
<circle cx="444.9" cy="205" r="1.52" fill="#fc8d62" stroke="#262626" stroke-width="0.65"/>
<circle cx="442.8" cy="206.8" r="1.52" fill="#fc8d62" stroke="#262626" stroke-width="0.65"/>
<circle cx="434.9" cy="210" r="1.52" fill="#fc8d62" stroke="#262626" stroke-width="0.65"/>
<circle cx="436.2" cy="212" r="1.52" fill="#fc8d62" stroke="#262626" stroke-width="0.65"/>
<circle cx="439.8" cy="212.4" r="1.52" fill="#fc8d62" stroke="#262626" stroke-width="0.65"/>
<circle cx="444.6" cy="212.4" r="1.52" fill="#fc8d62" stroke="#262626" stroke-width="0.65"/>
<circle cx="437" cy="218.2" r="1.52" fill="#fc8d62" stroke="#262626" stroke-width="0.65"/>
<circle cx="434.7" cy="220.6" r="1.52" fill="#fc8d62" stroke="#262626" stroke-width="0.65"/>
<circle cx="434.4" cy="224.9" r="1.52" fill="#fc8d62" stroke="#262626" stroke-width="0.65"/>
<circle cx="441.6" cy="227.4" r="1.52" fill="#fc8d62" stroke="#262626" stroke-width="0.65"/>
<circle cx="442.5" cy="229.1" r="1.52" fill="#fc8d62" stroke="#262626" stroke-width="0.65"/>
<circle cx="444.9" cy="229.3" r="1.52" fill="#fc8d62" stroke="#262626" stroke-width="0.65"/>
<circle cx="436.2" cy="235.4" r="1.52" fill="#fc8d62" stroke="#262626" stroke-width="0.65"/>
<circle cx="438.4" cy="236.1" r="1.52" fill="#fc8d62" stroke="#262626" stroke-width="0.65"/>
<circle cx="439" cy="239.6" r="1.52" fill="#fc8d62" stroke="#262626" stroke-width="0.65"/>
<circle cx="442.5" cy="242.2" r="1.52" fill="#fc8d62" stroke="#262626" stroke-width="0.65"/>
<circle cx="437.6" cy="253.3" r="1.52" fill="#fc8d62" stroke="#262626" stroke-width="0.65"/>
<circle cx="442.8" cy="252.4" r="1.52" fill="#fc8d62" stroke="#262626" stroke-width="0.65"/>
<circle cx="444.6" cy="255.9" r="1.52" fill="#fc8d62" stroke="#262626" stroke-width="0.65"/>
<circle cx="441.1" cy="261.2" r="1.52" fill="#fc8d62" stroke="#262626" stroke-width="0.65"/>
<circle cx="443.2" cy="269.1" r="1.52" fill="#fc8d62" stroke="#262626" stroke-width="0.65"/>
<circle cx="441.6" cy="275.1" r="1.52" fill="#fc8d62" stroke="#262626" stroke-width="0.65"/>
<circle cx="441.6" cy="300.9" r="1.52" fill="#fc8d62" stroke="#262626" stroke-width="0.65"/>
<circle cx="487.8" cy="58.9" r="1.52" fill="#8da0cb" stroke="#262626" stroke-width="0.65"/>
<circle cx="481.4" cy="102.9" r="1.52" fill="#8da0cb" stroke="#262626" stroke-width="0.65"/>
<circle cx="480.5" cy="106.3" r="1.52" fill="#8da0cb" stroke="#262626" stroke-width="0.65"/>
<circle cx="483.1" cy="117.7" r="1.52" fill="#8da0cb" stroke="#262626" stroke-width="0.65"/>
<circle cx="479.6" cy="127.9" r="1.52" fill="#8da0cb" stroke="#262626" stroke-width="0.65"/>
<circle cx="481.4" cy="138.4" r="1.52" fill="#8da0cb" stroke="#262626" stroke-width="0.65"/>
<circle cx="485.2" cy="145.4" r="1.52" fill="#8da0cb" stroke="#262626" stroke-width="0.65"/>
<circle cx="488" cy="151.9" r="1.52" fill="#8da0cb" stroke="#262626" stroke-width="0.65"/>
<circle cx="489.2" cy="158.2" r="1.52" fill="#8da0cb" stroke="#262626" stroke-width="0.65"/>
<circle cx="488.4" cy="159.4" r="1.52" fill="#8da0cb" stroke="#262626" stroke-width="0.65"/>
<circle cx="488" cy="167.7" r="1.52" fill="#8da0cb" stroke="#262626" stroke-width="0.65"/>
<circle cx="481.9" cy="175.6" r="1.52" fill="#8da0cb" stroke="#262626" stroke-width="0.65"/>
<circle cx="487" cy="184.9" r="1.52" fill="#8da0cb" stroke="#262626" stroke-width="0.65"/>
<circle cx="484.5" cy="186.1" r="1.52" fill="#8da0cb" stroke="#262626" stroke-width="0.65"/>
<circle cx="481" cy="188.9" r="1.52" fill="#8da0cb" stroke="#262626" stroke-width="0.65"/>
<circle cx="487.1" cy="189.3" r="1.52" fill="#8da0cb" stroke="#262626" stroke-width="0.65"/>
<circle cx="484.9" cy="206.3" r="1.52" fill="#8da0cb" stroke="#262626" stroke-width="0.65"/>
<circle cx="489.6" cy="209.8" r="1.52" fill="#8da0cb" stroke="#262626" stroke-width="0.65"/>
<circle cx="479.6" cy="212.4" r="1.52" fill="#8da0cb" stroke="#262626" stroke-width="0.65"/>
<circle cx="482.8" cy="215.2" r="1.52" fill="#8da0cb" stroke="#262626" stroke-width="0.65"/>
<circle cx="484.3" cy="223" r="1.52" fill="#8da0cb" stroke="#262626" stroke-width="0.65"/>
<circle cx="482.8" cy="233.1" r="1.52" fill="#8da0cb" stroke="#262626" stroke-width="0.65"/>
<circle cx="489.2" cy="244.5" r="1.52" fill="#8da0cb" stroke="#262626" stroke-width="0.65"/>
<circle cx="485.7" cy="256.3" r="1.52" fill="#8da0cb" stroke="#262626" stroke-width="0.65"/>
<g stroke="#66c2a5" stroke-width="1.85"><line x1="412.7" y1="184.8" x2="412.7" y2="230.8"/><line x1="410.9" y1="184.8" x2="414.5" y2="184.8"/><line x1="410.9" y1="230.8" x2="414.5" y2="230.8"/><line x1="407.5" y1="207.8" x2="417.9" y2="207.8"/></g>
<g stroke="#fc8d62" stroke-width="1.85"><line x1="457.3" y1="184.8" x2="457.3" y2="206.8"/><line x1="455.5" y1="184.8" x2="459.1" y2="184.8"/><line x1="455.5" y1="206.8" x2="459.1" y2="206.8"/><line x1="452.1" y1="196.4" x2="462.5" y2="196.4"/></g>
<g stroke="#8da0cb" stroke-width="1.85"><line x1="502.3" y1="144.8" x2="502.3" y2="179.8"/><line x1="500.5" y1="144.8" x2="504.1" y2="144.8"/><line x1="500.5" y1="179.8" x2="504.1" y2="179.8"/><line x1="497.1" y1="162.6" x2="507.5" y2="162.6"/></g>
<text x="417.4" y="179.8" font-size="10.55" fill="#66c2a5" text-anchor="start" font-weight="normal" transform="rotate(-90 417.4 179.8)" stroke="#66c2a5" stroke-width="0.18">Healthy Controls</text>
<text x="459.6" y="177.5" font-size="10.45" fill="#fc8d62" text-anchor="start" font-weight="normal" transform="rotate(-90 459.6 177.5)" stroke="#fc8d62" stroke-width="0.18">Resective Surgery</text>
<text x="505.6" y="135.5" font-size="10.45" fill="#8da0cb" text-anchor="start" font-weight="normal" transform="rotate(-90 505.6 135.5)" stroke="#8da0cb" stroke-width="0.18">VNS</text>
<path d="M403.4 34.8 V32.6 H493.6 V34.8" fill="none" stroke="#555" stroke-width="0.9"/>
<polygon points="448.50,26.40 447.95,27.95 446.33,27.65 447.40,28.90 446.33,30.15 447.95,29.85 448.50,31.40 449.05,29.85 450.67,30.15 449.60,28.90 450.67,27.65 449.05,27.95" fill="#111" stroke="#111" stroke-width="0.35" stroke-linejoin="round"/>
<path d="M448.4 48.1 V45.9 H493.6 V48.1" fill="none" stroke="#555" stroke-width="0.9"/>
<polygon points="471.00,39.70 470.45,41.25 468.83,40.95 469.90,42.20 468.83,43.45 470.45,43.15 471.00,44.70 471.55,43.15 473.17,43.45 472.10,42.20 473.17,40.95 471.55,41.25" fill="#111" stroke="#111" stroke-width="0.35" stroke-linejoin="round"/>
<line x1="558.6" y1="17.9" x2="558.6" y2="303" stroke="#9a9a9a" stroke-width="1"/>
<line x1="558.6" y1="28" x2="561.4" y2="28" stroke="#bcbcbc" stroke-width="0.9"/>
<text x="0" y="0" font-size="8.35" fill="#262626" text-anchor="end" font-weight="normal" transform="translate(555.5 31.05) scale(0.92 1)" stroke="#262626" stroke-width="0.18">0.98</text>
<line x1="558.6" y1="78.06" x2="561.4" y2="78.06" stroke="#bcbcbc" stroke-width="0.9"/>
<text x="0" y="0" font-size="8.35" fill="#262626" text-anchor="end" font-weight="normal" transform="translate(555.5 81.11) scale(0.92 1)" stroke="#262626" stroke-width="0.18">0.97</text>
<line x1="558.6" y1="128.12" x2="561.4" y2="128.12" stroke="#bcbcbc" stroke-width="0.9"/>
<text x="0" y="0" font-size="8.35" fill="#262626" text-anchor="end" font-weight="normal" transform="translate(555.5 131.17) scale(0.92 1)" stroke="#262626" stroke-width="0.18">0.96</text>
<line x1="558.6" y1="178.18" x2="561.4" y2="178.18" stroke="#bcbcbc" stroke-width="0.9"/>
<text x="0" y="0" font-size="8.35" fill="#262626" text-anchor="end" font-weight="normal" transform="translate(555.5 181.23) scale(0.92 1)" stroke="#262626" stroke-width="0.18">0.95</text>
<line x1="558.6" y1="228.24" x2="561.4" y2="228.24" stroke="#bcbcbc" stroke-width="0.9"/>
<text x="0" y="0" font-size="8.35" fill="#262626" text-anchor="end" font-weight="normal" transform="translate(555.5 231.29) scale(0.92 1)" stroke="#262626" stroke-width="0.18">0.94</text>
<line x1="558.6" y1="278.3" x2="561.4" y2="278.3" stroke="#bcbcbc" stroke-width="0.9"/>
<text x="0" y="0" font-size="8.35" fill="#262626" text-anchor="end" font-weight="normal" transform="translate(555.5 281.35) scale(0.92 1)" stroke="#262626" stroke-width="0.18">0.93</text>
<text x="537.5" y="160.1" font-size="8.5" fill="#262626" text-anchor="middle" font-weight="normal" transform="rotate(-90 537.5 160.1)" stroke="#262626" stroke-width="0.18">Modal Controllability</text>
<text x="625.8" y="15.4" font-size="8.5" fill="#000" text-anchor="middle" font-weight="bold" stroke="#000" stroke-width="0.3">Mean Modal Controllability</text>
<circle cx="575.4" cy="148" r="1.52" fill="#66c2a5" stroke="#262626" stroke-width="0.65"/>
<circle cx="577" cy="158.9" r="1.52" fill="#66c2a5" stroke="#262626" stroke-width="0.65"/>
<circle cx="567" cy="166.4" r="1.52" fill="#66c2a5" stroke="#262626" stroke-width="0.65"/>
<circle cx="567.2" cy="172.4" r="1.52" fill="#66c2a5" stroke="#262626" stroke-width="0.65"/>
<circle cx="576.8" cy="170.4" r="1.52" fill="#66c2a5" stroke="#262626" stroke-width="0.65"/>
<circle cx="577" cy="173.9" r="1.52" fill="#66c2a5" stroke="#262626" stroke-width="0.65"/>
<circle cx="567.3" cy="180.8" r="1.52" fill="#66c2a5" stroke="#262626" stroke-width="0.65"/>
<circle cx="576.1" cy="190.1" r="1.52" fill="#66c2a5" stroke="#262626" stroke-width="0.65"/>
<circle cx="571.4" cy="218.2" r="1.52" fill="#66c2a5" stroke="#262626" stroke-width="0.65"/>
<circle cx="576.6" cy="217.3" r="1.52" fill="#66c2a5" stroke="#262626" stroke-width="0.65"/>
<circle cx="576.2" cy="220.9" r="1.52" fill="#66c2a5" stroke="#262626" stroke-width="0.65"/>
<circle cx="573.1" cy="227" r="1.52" fill="#66c2a5" stroke="#262626" stroke-width="0.65"/>
<circle cx="567.9" cy="231.7" r="1.52" fill="#66c2a5" stroke="#262626" stroke-width="0.65"/>
<circle cx="571.9" cy="244.2" r="1.52" fill="#66c2a5" stroke="#262626" stroke-width="0.65"/>
<circle cx="575.2" cy="243.3" r="1.52" fill="#66c2a5" stroke="#262626" stroke-width="0.65"/>
<circle cx="569.1" cy="272.5" r="1.52" fill="#66c2a5" stroke="#262626" stroke-width="0.65"/>
<circle cx="618.7" cy="70.5" r="1.52" fill="#fc8d62" stroke="#262626" stroke-width="0.65"/>
<circle cx="616.1" cy="87.9" r="1.52" fill="#fc8d62" stroke="#262626" stroke-width="0.65"/>
<circle cx="613.8" cy="92.2" r="1.52" fill="#fc8d62" stroke="#262626" stroke-width="0.65"/>
<circle cx="616.6" cy="97.5" r="1.52" fill="#fc8d62" stroke="#262626" stroke-width="0.65"/>
<circle cx="619.6" cy="101.6" r="1.52" fill="#fc8d62" stroke="#262626" stroke-width="0.65"/>
<circle cx="621.3" cy="102.8" r="1.52" fill="#fc8d62" stroke="#262626" stroke-width="0.65"/>
<circle cx="615.4" cy="105.2" r="1.52" fill="#fc8d62" stroke="#262626" stroke-width="0.65"/>
<circle cx="620.6" cy="106.1" r="1.52" fill="#fc8d62" stroke="#262626" stroke-width="0.65"/>
<circle cx="613.5" cy="114.2" r="1.52" fill="#fc8d62" stroke="#262626" stroke-width="0.65"/>
<circle cx="616.3" cy="116.2" r="1.52" fill="#fc8d62" stroke="#262626" stroke-width="0.65"/>
<circle cx="612.2" cy="117.2" r="1.52" fill="#fc8d62" stroke="#262626" stroke-width="0.65"/>
<circle cx="614.7" cy="118.4" r="1.52" fill="#fc8d62" stroke="#262626" stroke-width="0.65"/>
<circle cx="618.3" cy="118.4" r="1.52" fill="#fc8d62" stroke="#262626" stroke-width="0.65"/>
<circle cx="613.8" cy="119.7" r="1.52" fill="#fc8d62" stroke="#262626" stroke-width="0.65"/>
<circle cx="612.1" cy="122.4" r="1.52" fill="#fc8d62" stroke="#262626" stroke-width="0.65"/>
<circle cx="615.4" cy="122.2" r="1.52" fill="#fc8d62" stroke="#262626" stroke-width="0.65"/>
<circle cx="618.9" cy="122.4" r="1.52" fill="#fc8d62" stroke="#262626" stroke-width="0.65"/>
<circle cx="618.3" cy="126.8" r="1.52" fill="#fc8d62" stroke="#262626" stroke-width="0.65"/>
<circle cx="621.5" cy="127.5" r="1.52" fill="#fc8d62" stroke="#262626" stroke-width="0.65"/>
<circle cx="619.6" cy="129.7" r="1.52" fill="#fc8d62" stroke="#262626" stroke-width="0.65"/>
<circle cx="621.8" cy="130" r="1.52" fill="#fc8d62" stroke="#262626" stroke-width="0.65"/>
<circle cx="618.9" cy="134.3" r="1.52" fill="#fc8d62" stroke="#262626" stroke-width="0.65"/>
<circle cx="619.6" cy="136.2" r="1.52" fill="#fc8d62" stroke="#262626" stroke-width="0.65"/>
<circle cx="617" cy="139.8" r="1.52" fill="#fc8d62" stroke="#262626" stroke-width="0.65"/>
<circle cx="621.3" cy="144.2" r="1.52" fill="#fc8d62" stroke="#262626" stroke-width="0.65"/>
<circle cx="611.3" cy="147.7" r="1.52" fill="#fc8d62" stroke="#262626" stroke-width="0.65"/>
<circle cx="621.7" cy="148.4" r="1.52" fill="#fc8d62" stroke="#262626" stroke-width="0.65"/>
<circle cx="611.3" cy="151.9" r="1.52" fill="#fc8d62" stroke="#262626" stroke-width="0.65"/>
<circle cx="619.6" cy="151.2" r="1.52" fill="#fc8d62" stroke="#262626" stroke-width="0.65"/>
<circle cx="615.2" cy="156.8" r="1.52" fill="#fc8d62" stroke="#262626" stroke-width="0.65"/>
<circle cx="617.8" cy="158.2" r="1.52" fill="#fc8d62" stroke="#262626" stroke-width="0.65"/>
<circle cx="612.2" cy="158.9" r="1.52" fill="#fc8d62" stroke="#262626" stroke-width="0.65"/>
<circle cx="613.4" cy="161.2" r="1.52" fill="#fc8d62" stroke="#262626" stroke-width="0.65"/>
<circle cx="611.3" cy="167.7" r="1.52" fill="#fc8d62" stroke="#262626" stroke-width="0.65"/>
<circle cx="619.6" cy="175.3" r="1.52" fill="#fc8d62" stroke="#262626" stroke-width="0.65"/>
<circle cx="621.7" cy="177" r="1.52" fill="#fc8d62" stroke="#262626" stroke-width="0.65"/>
<circle cx="616.4" cy="178.8" r="1.52" fill="#fc8d62" stroke="#262626" stroke-width="0.65"/>
<circle cx="614.3" cy="181.9" r="1.52" fill="#fc8d62" stroke="#262626" stroke-width="0.65"/>
<circle cx="612.9" cy="183.1" r="1.52" fill="#fc8d62" stroke="#262626" stroke-width="0.65"/>
<circle cx="619.6" cy="185.8" r="1.52" fill="#fc8d62" stroke="#262626" stroke-width="0.65"/>
<circle cx="621.7" cy="186.1" r="1.52" fill="#fc8d62" stroke="#262626" stroke-width="0.65"/>
<circle cx="611.2" cy="187.9" r="1.52" fill="#fc8d62" stroke="#262626" stroke-width="0.65"/>
<circle cx="618.2" cy="188.4" r="1.52" fill="#fc8d62" stroke="#262626" stroke-width="0.65"/>
<circle cx="618.7" cy="196.8" r="1.52" fill="#fc8d62" stroke="#262626" stroke-width="0.65"/>
<circle cx="618.7" cy="212.4" r="1.52" fill="#fc8d62" stroke="#262626" stroke-width="0.65"/>
<circle cx="614.7" cy="221.2" r="1.52" fill="#fc8d62" stroke="#262626" stroke-width="0.65"/>
<circle cx="620.4" cy="241.9" r="1.52" fill="#fc8d62" stroke="#262626" stroke-width="0.65"/>
<circle cx="618.7" cy="269.1" r="1.52" fill="#fc8d62" stroke="#262626" stroke-width="0.65"/>
<circle cx="619.9" cy="278.3" r="1.52" fill="#fc8d62" stroke="#262626" stroke-width="0.65"/>
<circle cx="664.6" cy="65" r="1.52" fill="#8da0cb" stroke="#262626" stroke-width="0.65"/>
<circle cx="665.1" cy="89.4" r="1.52" fill="#8da0cb" stroke="#262626" stroke-width="0.65"/>
<circle cx="665.4" cy="94.7" r="1.52" fill="#8da0cb" stroke="#262626" stroke-width="0.65"/>
<circle cx="658.5" cy="96.3" r="1.52" fill="#8da0cb" stroke="#262626" stroke-width="0.65"/>
<circle cx="666.5" cy="100" r="1.52" fill="#8da0cb" stroke="#262626" stroke-width="0.65"/>
<circle cx="656.6" cy="100.7" r="1.52" fill="#8da0cb" stroke="#262626" stroke-width="0.65"/>
<circle cx="658.1" cy="102.5" r="1.52" fill="#8da0cb" stroke="#262626" stroke-width="0.65"/>
<circle cx="658.8" cy="104.2" r="1.52" fill="#8da0cb" stroke="#262626" stroke-width="0.65"/>
<circle cx="664.3" cy="104.6" r="1.52" fill="#8da0cb" stroke="#262626" stroke-width="0.65"/>
<circle cx="661.7" cy="115.3" r="1.52" fill="#8da0cb" stroke="#262626" stroke-width="0.65"/>
<circle cx="658.1" cy="117" r="1.52" fill="#8da0cb" stroke="#262626" stroke-width="0.65"/>
<circle cx="659.8" cy="118.2" r="1.52" fill="#8da0cb" stroke="#262626" stroke-width="0.65"/>
<circle cx="656.3" cy="119.9" r="1.52" fill="#8da0cb" stroke="#262626" stroke-width="0.65"/>
<circle cx="659.1" cy="121.1" r="1.52" fill="#8da0cb" stroke="#262626" stroke-width="0.65"/>
<circle cx="662.5" cy="121.1" r="1.52" fill="#8da0cb" stroke="#262626" stroke-width="0.65"/>
<circle cx="658.5" cy="125.7" r="1.52" fill="#8da0cb" stroke="#262626" stroke-width="0.65"/>
<circle cx="660.3" cy="119.2" r="1.52" fill="#8da0cb" stroke="#262626" stroke-width="0.65"/>
<circle cx="662.1" cy="143.1" r="1.52" fill="#8da0cb" stroke="#262626" stroke-width="0.65"/>
<circle cx="662.1" cy="147.2" r="1.52" fill="#8da0cb" stroke="#262626" stroke-width="0.65"/>
<circle cx="664.6" cy="152.4" r="1.52" fill="#8da0cb" stroke="#262626" stroke-width="0.65"/>
<circle cx="659.9" cy="156.3" r="1.52" fill="#8da0cb" stroke="#262626" stroke-width="0.65"/>
<circle cx="663" cy="168.2" r="1.52" fill="#8da0cb" stroke="#262626" stroke-width="0.65"/>
<circle cx="665.1" cy="171.4" r="1.52" fill="#8da0cb" stroke="#262626" stroke-width="0.65"/>
<circle cx="661.1" cy="176.1" r="1.52" fill="#8da0cb" stroke="#262626" stroke-width="0.65"/>
<circle cx="666" cy="195.4" r="1.52" fill="#8da0cb" stroke="#262626" stroke-width="0.65"/>
<circle cx="666.2" cy="196.5" r="1.52" fill="#8da0cb" stroke="#262626" stroke-width="0.65"/>
<circle cx="659.9" cy="205.6" r="1.52" fill="#8da0cb" stroke="#262626" stroke-width="0.65"/>
<g stroke="#66c2a5" stroke-width="1.85"><line x1="589.3" y1="171" x2="589.3" y2="216.8"/><line x1="587.5" y1="171" x2="591.1" y2="171"/><line x1="587.5" y1="216.8" x2="591.1" y2="216.8"/><line x1="584.1" y1="193.8" x2="594.5" y2="193.8"/></g>
<g stroke="#fc8d62" stroke-width="1.85"><line x1="634.7" y1="141.5" x2="634.7" y2="164"/><line x1="632.9" y1="141.5" x2="636.5" y2="141.5"/><line x1="632.9" y1="164" x2="636.5" y2="164"/><line x1="629.5" y1="153.1" x2="639.9" y2="153.1"/></g>
<g stroke="#8da0cb" stroke-width="1.85"><line x1="679.6" y1="103.5" x2="679.6" y2="136.6"/><line x1="677.8" y1="103.5" x2="681.4" y2="103.5"/><line x1="677.8" y1="136.6" x2="681.4" y2="136.6"/><line x1="674.4" y1="120.1" x2="684.8" y2="120.1"/></g>
<text x="594.2" y="164.8" font-size="10.55" fill="#66c2a5" text-anchor="start" font-weight="normal" transform="rotate(-90 594.2 164.8)" stroke="#66c2a5" stroke-width="0.18">Healthy Controls</text>
<text x="639.2" y="173.8" font-size="10.45" fill="#fc8d62" text-anchor="end" font-weight="normal" transform="rotate(-90 639.2 173.8)" stroke="#fc8d62" stroke-width="0.18">Resective Surgery</text>
<text x="684.4" y="95.3" font-size="10.45" fill="#8da0cb" text-anchor="start" font-weight="normal" transform="rotate(-90 684.4 95.3)" stroke="#8da0cb" stroke-width="0.18">VNS</text>
<path d="M580.5 35 V32.8 H670.4 V35" fill="none" stroke="#555" stroke-width="0.9"/>
<polygon points="625.45,26.60 624.90,28.15 623.28,27.85 624.35,29.10 623.28,30.35 624.90,30.05 625.45,31.60 626.00,30.05 627.62,30.35 626.55,29.10 627.62,27.85 626.00,28.15" fill="#111" stroke="#111" stroke-width="0.35" stroke-linejoin="round"/>
<path d="M625.7 48.1 V45.9 H670.4 V48.1" fill="none" stroke="#555" stroke-width="0.9"/>
<polygon points="648.05,39.70 647.50,41.25 645.88,40.95 646.95,42.20 645.88,43.45 647.50,43.15 648.05,44.70 648.60,43.15 650.22,43.45 649.15,42.20 650.22,40.95 648.60,41.25" fill="#111" stroke="#111" stroke-width="0.35" stroke-linejoin="round"/>
<path d="M580.5 59.9 V57.7 H625.7 V59.9" fill="none" stroke="#555" stroke-width="0.9"/>
<polygon points="603.10,51.50 602.55,53.05 600.93,52.75 602.00,54.00 600.93,55.25 602.55,54.95 603.10,56.50 603.65,54.95 605.27,55.25 604.20,54.00 605.27,52.75 603.65,53.05" fill="#111" stroke="#111" stroke-width="0.35" stroke-linejoin="round"/>
</svg>
</body></html>
